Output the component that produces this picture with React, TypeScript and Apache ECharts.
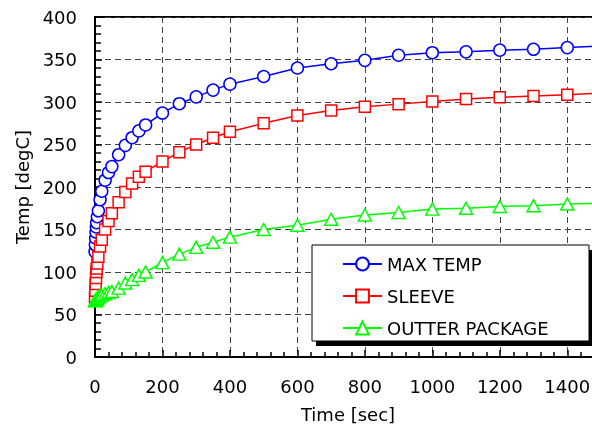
import React, { useEffect, useRef } from "react";
import * as echarts from "echarts";

const times = [0, 1, 2, 3, 4, 5, 7, 10, 15, 20, 30, 40, 50, 70, 90, 110, 130, 150, 200, 250, 300, 350, 400, 500, 600, 700, 800, 900, 1000, 1100, 1200, 1300, 1400, 1500];
const maxTemp = [124, 132, 140, 147, 153, 158, 165, 172, 185, 195, 208, 217, 224, 238, 249, 258, 266, 273, 287, 298, 306, 314, 321, 330, 340, 345, 349, 355, 358, 359, 361, 362, 364, 366];
const sleeve = [70, 78, 86, 93, 100, 104, 110, 118, 130, 138, 150, 160, 169, 182, 194, 204, 212, 218, 230, 241, 250, 258, 265, 275, 284, 290, 294.5, 297.5, 300.5, 303.5, 305.5, 307, 308.5, 310.5];
const outter = [66, 66.5, 67, 67.5, 68, 68.5, 69.5, 70.5, 72, 73, 74.5, 76, 77, 81, 87, 91, 96, 100, 111, 121, 129, 135, 141, 150, 155, 162, 167, 170, 174, 175, 177, 178, 180, 181];

const seriesNames = ["MAX TEMP", "SLEEVE", "OUTTER PACKAGE"];
const seriesColors = ["#0000ff", "#ff0000", "#00ff00"];
const seriesSymbols = ["circle", "rect", "triangle"];

const pairs = (vals: number[]) => times.map((t, i) => [t, vals[i]]);

export default function App() {
  const ref = useRef<HTMLDivElement>(null);
  useEffect(() => {
    document.body.style.margin = "0";
    const chart = echarts.init(ref.current!, null, { renderer: "svg" });
    const font = "DejaVu Sans";
    const allData = [maxTemp, sleeve, outter];
    chart.setOption({
      animation: false,
      textStyle: { fontFamily: font },
      grid: {
        left: 95,
        top: 17,
        right: 0,
        bottom: 78,
        show: true,
        borderColor: "#000",
        borderWidth: 2,
        outerBoundsMode: "none",
      },
      xAxis: {
        type: "value",
        min: 0,
        max: 1500,
        interval: 200,
        name: "Time [sec]",
        nameLocation: "middle",
        nameGap: 48,
        nameTextStyle: { fontSize: 18, color: "#000", fontFamily: font },
        axisLine: { show: true, lineStyle: { color: "#000", width: 2 } },
        axisTick: { show: true, inside: true, length: 7, lineStyle: { color: "#000", width: 1.5 } },
        minorTick: { show: true, splitNumber: 5, length: 5, lineStyle: { color: "#000", width: 1.5 } },
        axisLabel: {
          fontSize: 18,
          color: "#000",
          margin: 20,
          showMaxLabel: false,
          fontFamily: font,
          formatter: (v: number) => String(v),
        },
        splitLine: { show: true, lineStyle: { color: "#444", width: 1, type: [6, 4] } },
      },
      yAxis: {
        type: "value",
        min: 0,
        max: 400,
        interval: 50,
        name: "Temp [degC]",
        nameLocation: "middle",
        nameGap: 62,
        nameTextStyle: { fontSize: 18, color: "#000", fontFamily: font },
        axisLine: { show: true, lineStyle: { color: "#000", width: 2 } },
        axisTick: { show: true, inside: true, length: 7, lineStyle: { color: "#000", width: 1.5 } },
        minorTick: { show: true, splitNumber: 5, length: 6, lineStyle: { color: "#000", width: 1.5 } },
        axisLabel: { fontSize: 18, color: "#000", margin: 18, fontFamily: font, formatter: (v: number) => String(v) },
        splitLine: { show: true, lineStyle: { color: "#444", width: 1, type: [6, 4] } },
      },
      legend: {
        orient: "vertical",
        left: 342,
        top: 255,
        padding: 0,
        itemWidth: 39,
        itemHeight: 16,
        itemGap: 14,
        textStyle: { fontSize: 18, color: "#000", fontFamily: font },
        data: seriesNames,
        z: 10,
      },
      graphic: [
        { type: "rect", z: 5, shape: { x: 316, y: 250, width: 277, height: 96 }, style: { fill: "#000" } },
        { type: "rect", z: 6, shape: { x: 312, y: 245, width: 277, height: 96 }, style: { fill: "#fff", stroke: "#000", lineWidth: 1 } },
      ],
      series: seriesNames.map((name, i) => ({
        name,
        type: "line",
        data: pairs(allData[i]),
        symbol: seriesSymbols[i],
        symbolSize: i === 2 ? [13, 12] : i === 1 ? 11 : 12,
        showAllSymbol: true,
        lineStyle: { color: seriesColors[i], width: 1.5 },
        itemStyle: { color: "#fff", borderColor: seriesColors[i], borderWidth: 1.5 },
        emphasis: { disabled: true },
      })),
    });
    return () => chart.dispose();
  }, []);
  return <div ref={ref} style={{ position: "fixed", left: 0, top: 0, width: 601, height: 435 }} />;
}
